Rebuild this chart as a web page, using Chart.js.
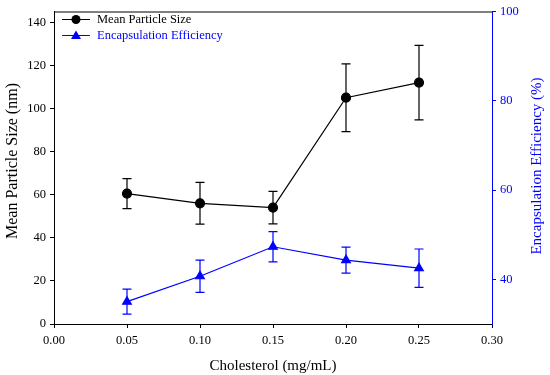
<!DOCTYPE html>
<html>
<head>
<meta charset="utf-8">
<script src="https://cdn.jsdelivr.net/npm/chart.js@4/dist/chart.umd.min.js"></script>
<style>
  html, body { margin: 0; padding: 0; background: #fff; }
</style>
</head>
<body>
<canvas id="chart" width="550" height="375"></canvas>
<script>
const cholesterol = [0.05, 0.10, 0.15, 0.20, 0.25];
const particleSize = [60.5, 56, 54, 105, 112];
const particleErr = [7, 9.7, 7.5, 15.7, 17.3];
const efficiency = [35, 40.7, 47.3, 44.3, 42.5];
const efficiencyErr = [2.8, 3.6, 3.4, 2.9, 4.3];
const sizeTicks = [0, 20, 40, 60, 80, 100, 120, 140];
const effTicks = [40, 60, 80, 100];

const FONT = 'Liberation Serif, Times New Roman, serif';
const BLUE = '#0000ff';

const errorBars = {
    id: 'errorBars',
    afterDatasetsDraw(chart) {
        const ctx = chart.ctx;
        const x = chart.scales.x;
        const sets = [
            { vals: particleSize, err: particleErr, axis: chart.scales.y, color: '#000' },
            { vals: efficiency, err: efficiencyErr, axis: chart.scales.y2, color: BLUE }
        ];
        ctx.save();
        ctx.lineWidth = 1.2;
        sets.forEach(s => {
            ctx.strokeStyle = s.color;
            s.vals.forEach((v, i) => {
                const px = x.getPixelForValue(cholesterol[i]);
                const top = s.axis.getPixelForValue(v + s.err[i]);
                const bot = s.axis.getPixelForValue(v - s.err[i]);
                ctx.beginPath();
                ctx.moveTo(px, top); ctx.lineTo(px, bot);
                ctx.moveTo(px - 4.5, top); ctx.lineTo(px + 4.5, top);
                ctx.moveTo(px - 4.5, bot); ctx.lineTo(px + 4.5, bot);
                ctx.stroke();
            });
        });
        ctx.restore();
    }
};

const frame = {
    id: 'frame',
    afterDraw(chart) {
        const ctx = chart.ctx;
        const a = chart.chartArea;
        ctx.save();
        // top border
        ctx.strokeStyle = '#000';
        ctx.lineWidth = 1;
        ctx.beginPath();
        ctx.moveTo(a.left, a.top + 0.5);
        ctx.lineTo(a.right, a.top + 0.5);
        ctx.stroke();

        // legend
        ctx.font = '12.5px ' + FONT;
        ctx.textBaseline = 'middle';
        const items = [
            { label: 'Mean Particle Size', color: '#000', style: 'circle', y: 19.5 },
            { label: 'Encapsulation Efficiency', color: BLUE, style: 'triangle', y: 35.5 }
        ];
        items.forEach(it => {
            ctx.strokeStyle = it.color;
            ctx.fillStyle = it.color;
            ctx.lineWidth = 1;
            ctx.beginPath();
            ctx.moveTo(62, it.y); ctx.lineTo(90, it.y);
            ctx.stroke();
            ctx.beginPath();
            if (it.style === 'circle') {
                ctx.arc(76, it.y, 4.5, 0, Math.PI * 2);
            } else {
                ctx.moveTo(76, it.y - 5);
                ctx.lineTo(81, it.y + 3.5);
                ctx.lineTo(71, it.y + 3.5);
                ctx.closePath();
            }
            ctx.fill();
            ctx.fillText(it.label, 97, it.y);
        });

        // axis titles, reading bottom to top
        ctx.textAlign = 'center';
        ctx.save();
        ctx.fillStyle = '#000';
        ctx.font = '16px ' + FONT;
        ctx.translate(13, 161);
        ctx.rotate(-Math.PI / 2);
        ctx.fillText('Mean Particle Size (nm)', 0, 0);
        ctx.restore();

        ctx.fillStyle = BLUE;
        ctx.font = '15px ' + FONT;
        ctx.translate(537, 166);
        ctx.rotate(-Math.PI / 2);
        ctx.fillText('Encapsulation Efficiency (%)', 0, 0);
        ctx.restore();
    }
};

new Chart(document.getElementById('chart'), {
    type: 'line',
    data: {
        datasets: [
            {
                label: 'Mean Particle Size',
                data: cholesterol.map((c, i) => ({ x: c, y: particleSize[i] })),
                borderColor: '#000',
                backgroundColor: '#000',
                borderWidth: 1.2,
                pointStyle: 'circle',
                pointRadius: 4.5,
                yAxisID: 'y'
            },
            {
                label: 'Encapsulation Efficiency',
                data: cholesterol.map((c, i) => ({ x: c, y: efficiency[i] })),
                borderColor: BLUE,
                backgroundColor: BLUE,
                borderWidth: 1.2,
                pointStyle: 'triangle',
                pointRadius: 5,
                yAxisID: 'y2'
            }
        ]
    },
    options: {
        responsive: false,
        animation: false,
        layout: { padding: { top: 9, right: 0, left: 0, bottom: 0 } },
        plugins: {
            legend: { display: false },
            tooltip: { enabled: false }
        },
        scales: {
            x: {
                type: 'linear',
                min: 0,
                max: 0.30,
                afterFit: s => { s.height = 51; },
                ticks: {
                    stepSize: 0.05,
                    color: '#000',
                    font: { family: FONT, size: 12.5 },
                    maxRotation: 0,
                    padding: 5,
                    callback: v => v.toFixed(2)
                },
                grid: { drawOnChartArea: false, color: '#000', tickLength: 4 },
                border: { color: '#000', width: 1 },
                title: {
                    display: true,
                    text: 'Cholesterol (mg/mL)',
                    color: '#000',
                    font: { family: FONT, size: 15 },
                    padding: { top: 7, bottom: 0 }
                }
            },
            y: {
                position: 'left',
                min: 0,
                max: 145,
                afterFit: s => { s.width = 54; },
                afterBuildTicks: s => { s.ticks = sizeTicks.map(v => ({ value: v })); },
                ticks: {
                    color: '#000',
                    font: { family: FONT, size: 12.5 },
                    padding: 4
                },
                grid: { drawOnChartArea: false, color: '#000', tickLength: 4 },
                border: { color: '#000', width: 1 }
            },
            y2: {
                position: 'right',
                min: 30,
                max: 100,
                afterFit: s => { s.width = 58; },
                afterBuildTicks: s => { s.ticks = effTicks.map(v => ({ value: v })); },
                ticks: {
                    color: BLUE,
                    font: { family: FONT, size: 12.5 },
                    padding: 4
                },
                grid: { drawOnChartArea: false, color: BLUE, tickLength: 4 },
                border: { color: BLUE, width: 1 }
            }
        }
    },
    plugins: [errorBars, frame]
});
</script>
</body>
</html>
